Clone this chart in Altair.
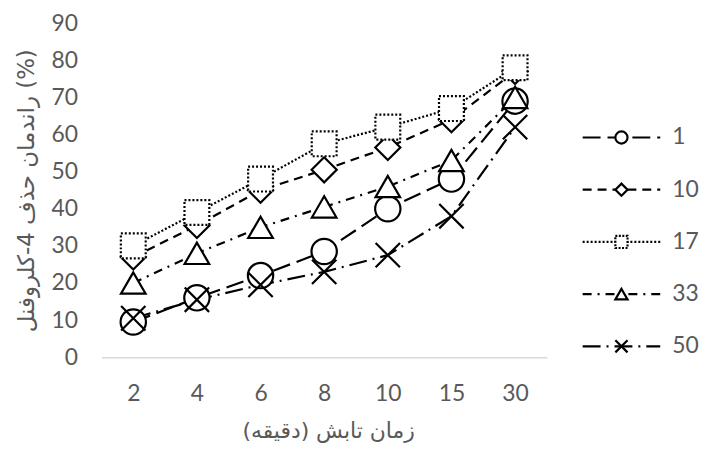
import altair as alt
import pandas as pd

times = ["2", "4", "6", "8", "10", "15", "30"]
series = ["1", "10", "17", "33", "50"]
s1 = [9.5, 16, 22, 28.5, 40, 48, 69]
s10 = [27, 35.5, 45, 50.5, 56.5, 64, 77]
s17 = [30, 39, 48, 57.5, 62, 67, 78]
s33 = [20, 28, 35, 40.5, 46, 53, 70]
s50 = [10.5, 15.5, 19.5, 23, 27.5, 38, 62]
values = [s1, s10, s17, s33, s50]

x_title = "زمان تابش (دقیقه)"
y_title = "راندمان حذف 4-کلروفنل (%)"

shapes = ["circle", "diamond", "square", "triangle-up", "M-1,-1L1,1M-1,1L1,-1"]
dashes = [[18, 7], [9, 6], [2, 2], [9, 6, 2, 6], [18, 6, 2, 6]]
sizes = [650, 600, 720, 560, 500]

rows = []
for s, vals in zip(series, values):
    for t, v in zip(times, vals):
        rows.append({"series": s, "time": t, "value": v})
df = pd.DataFrame(rows)

leg_rows = []
for s in series:
    for p in [0, 1]:
        leg_rows.append({"series": s, "pos": p})
leg_df = pd.DataFrame(leg_rows)
leg_pt = pd.DataFrame({"series": series, "pos": [0.5] * len(series)})
leg_tx = pd.DataFrame({"series": series, "pos": [1] * len(series)})

GRAY = "#595959"
NUMFONT = "Lato"
ARFONT = "DejaVu Sans"

shape_scale = alt.Scale(domain=series, range=shapes)
dash_scale = alt.Scale(domain=series, range=dashes)
size_scale = alt.Scale(domain=series, range=sizes)

X = alt.X("time:O", sort=times,
          scale=alt.Scale(type="point", padding=0.5),
          axis=alt.Axis(title=x_title, labelAngle=0, ticks=False, tickSize=0,
                        domainColor="#d9d9d9", domainWidth=1.5,
                        labelPadding=26, labelFont=NUMFONT, labelFontSize=23,
                        labelColor=GRAY, titleFont=ARFONT, titleFontSize=22,
                        titleColor=GRAY, titleFontWeight="normal",
                        titleX=228, titleY=74, titleBaseline="middle",
                        titleAlign="center"))
Y = alt.Y("value:Q", scale=alt.Scale(domain=[0, 90], nice=False),
          axis=alt.Axis(title=y_title, values=list(range(0, 91, 10)),
                        grid=False, domain=False, ticks=False, tickSize=0,
                        labelPadding=24, labelFont=NUMFONT, labelFontSize=23,
                        labelColor=GRAY, titleFont=ARFONT, titleFontSize=23,
                        titleColor=GRAY, titleFontWeight="normal",
                        titleX=-75, titleY=168, titleAngle=-90,
                        titleBaseline="middle", titleAlign="center"))

base = alt.Chart(df)
lines = base.mark_line(color="black", strokeWidth=2.2).encode(
    x=X, y=Y,
    detail="series:N",
    strokeDash=alt.StrokeDash("series:N", scale=dash_scale, legend=None),
)

def pts(sel, dash=None):
    kw = dict(filled=True, fill="white", stroke="black", strokeWidth=2.2, opacity=1)
    if dash is not None:
        kw["strokeDash"] = dash
    return base.transform_filter(
        alt.FieldOneOfPredicate(field="series", oneOf=sel)
    ).mark_point(**kw).encode(
        x=X, y=Y,
        shape=alt.Shape("series:N", scale=shape_scale, legend=None),
        size=alt.Size("series:N", scale=size_scale, legend=None),
    )

main = alt.layer(lines, pts(["1", "10"]), pts(["17"], [2, 2]), pts(["33", "50"]))

LX = alt.Scale(domain=[0, 1], range=[484, 562])
LY = alt.Scale(type="point", domain=series, range=[115, 325], padding=0)

leg_lines = alt.Chart(leg_df).mark_line(color="black", strokeWidth=2.2).encode(
    x=alt.X("pos:Q", scale=LX, axis=None),
    y=alt.Y("series:N", scale=LY, axis=None),
    detail="series:N",
    strokeDash=alt.StrokeDash("series:N", scale=dash_scale, legend=None),
)

def leg_pts(sel, dash=None):
    kw = dict(filled=True, fill="white", stroke="black", strokeWidth=2.2, opacity=1, size=150)
    if dash is not None:
        kw["strokeDash"] = dash
    return alt.Chart(leg_pt).transform_filter(
        alt.FieldOneOfPredicate(field="series", oneOf=sel)
    ).mark_point(**kw).encode(
        x=alt.X("pos:Q", scale=LX, axis=None),
        y=alt.Y("series:N", scale=LY, axis=None),
        shape=alt.Shape("series:N", scale=shape_scale, legend=None),
    )

leg_text = alt.Chart(leg_tx).mark_text(
    align="left", baseline="middle", dx=12, font=NUMFONT, fontSize=23, color=GRAY
).encode(
    x=alt.X("pos:Q", scale=LX, axis=None),
    y=alt.Y("series:N", scale=LY, axis=None),
    text="series:N",
)

legend = alt.layer(leg_lines, leg_pts(["1", "10"]), leg_pts(["17"], [2, 1.5]),
                   leg_pts(["33", "50"]), leg_text)

chart = alt.layer(main, legend).resolve_scale(
    x="independent", y="independent"
).properties(
    width=448, height=336,
    autosize=alt.AutoSizeParams(type="none"),
    padding={"left": 94, "top": 14, "right": 153, "bottom": 88},
).configure_view(stroke=None)

chart.save("out.html", embed_options={"renderer": "svg", "actions": False})
